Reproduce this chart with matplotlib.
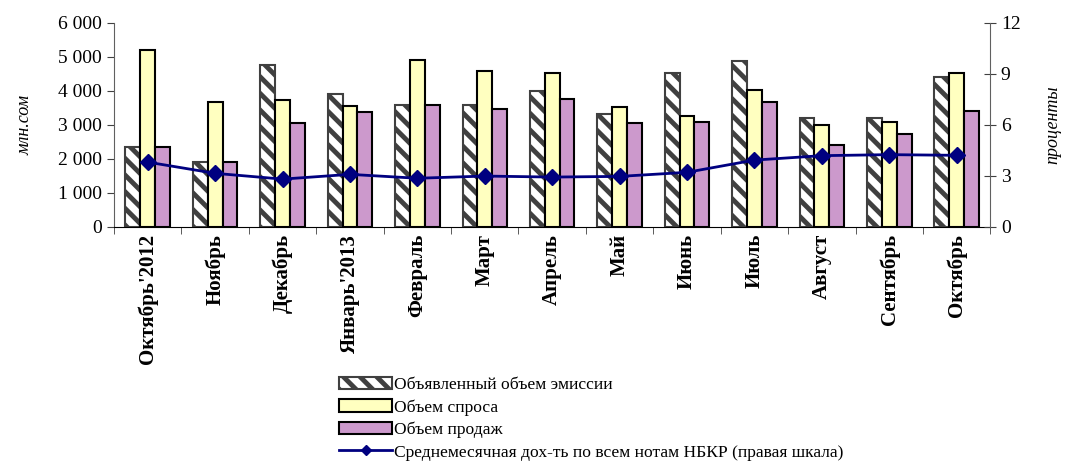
import matplotlib
matplotlib.use("Agg")
import matplotlib.pyplot as plt
import numpy as np

plt.rcParams["font.family"] = ["Liberation Serif", "DejaVu Serif"]
plt.rcParams["hatch.linewidth"] = 3.5
plt.rcParams["hatch.color"] = "#404040"

months = [
    "Октябрь'2012", "Ноябрь", "Декабрь", "Январь'2013", "Февраль", "Март",
    "Апрель", "Май", "Июнь", "Июль", "Август", "Сентябрь", "Октябрь",
]
emission = [2350, 1900, 4750, 3890, 3590, 3590, 4000, 3310, 4510, 4890, 3200, 3200, 4390]
demand = [5200, 3660, 3720, 3550, 4900, 4590, 4510, 3510, 3260, 4020, 2990, 3090, 4510]
sales = [2350, 1900, 3040, 3370, 3590, 3470, 3770, 3060, 3090, 3680, 2390, 2720, 3390]
yield_pct = [3.8, 3.14, 2.8, 3.08, 2.85, 2.98, 2.92, 2.96, 3.2, 3.92, 4.18, 4.24, 4.2]

x = np.arange(len(months))
width = 0.22

fig = plt.figure(figsize=(10.65, 4.65), dpi=100)
ax = fig.add_axes([0.107, 0.5125, 0.823, 0.4385])

b1 = ax.bar(x - width, emission, width, facecolor="white", edgecolor="#404040",
            hatch="\\\\", linewidth=1.5, label="Объявленный объем эмиссии")
b2 = ax.bar(x, demand, width, facecolor="#FFFFC0", edgecolor="black",
            linewidth=1.5, label="Объем спроса")
b3 = ax.bar(x + width, sales, width, facecolor="#CC99CC", edgecolor="black",
            linewidth=1.5, label="Объем продаж")

ax.set_xlim(-0.5, len(months) - 0.5)
ax.set_ylim(0, 6000)
ax.set_yticks(range(0, 6001, 1000))
ax.set_yticklabels(["0", "1 000", "2 000", "3 000", "4 000", "5 000", "6 000"], fontsize=14)
ax.set_xticks(x)
ax.set_xticklabels(months, rotation=90, fontsize=15, fontweight="bold")
ax.tick_params(axis="x", length=0, pad=5)
ax.set_xticks(np.arange(-0.5, len(months), 1.0), minor=True)
ax.tick_params(axis="x", which="minor", length=5, direction="out", color="#404040")
ax.tick_params(axis="y", length=5, direction="out", color="#404040")
ax.set_ylabel("млн.сом", fontsize=13, fontstyle="italic", labelpad=18)

for side in ["top", "right"]:
    ax.spines[side].set_visible(False)
ax.spines["left"].set_color("#606060")
ax.spines["bottom"].set_color("black")

ax2 = ax.twinx()
(l1,) = ax2.plot(x, yield_pct, color="#000080", linewidth=2, marker="D", markersize=8,
                 label="Среднемесячная дох-ть по всем нотам НБКР (правая шкала)")
ax2.set_ylim(0, 12)
ax2.set_yticks(range(0, 13, 3))
ax2.tick_params(axis="y", labelsize=14, length=8, direction="inout", color="#404040")
ax2.set_ylabel("проценты", fontsize=13, fontstyle="italic", rotation=90, labelpad=17)
for side in ["top", "left", "bottom"]:
    ax2.spines[side].set_visible(False)
ax2.spines["right"].set_color("#606060")

leg = fig.legend(handles=[b1, b2, b3, l1], loc="upper left", bbox_to_anchor=(0.312, 0.205),
                 frameon=False, fontsize=12.6, handlelength=3.0, handletextpad=0.1,
                 labelspacing=0.35, borderaxespad=0, markerscale=0.7)

fig.savefig("out.png", dpi=100)
